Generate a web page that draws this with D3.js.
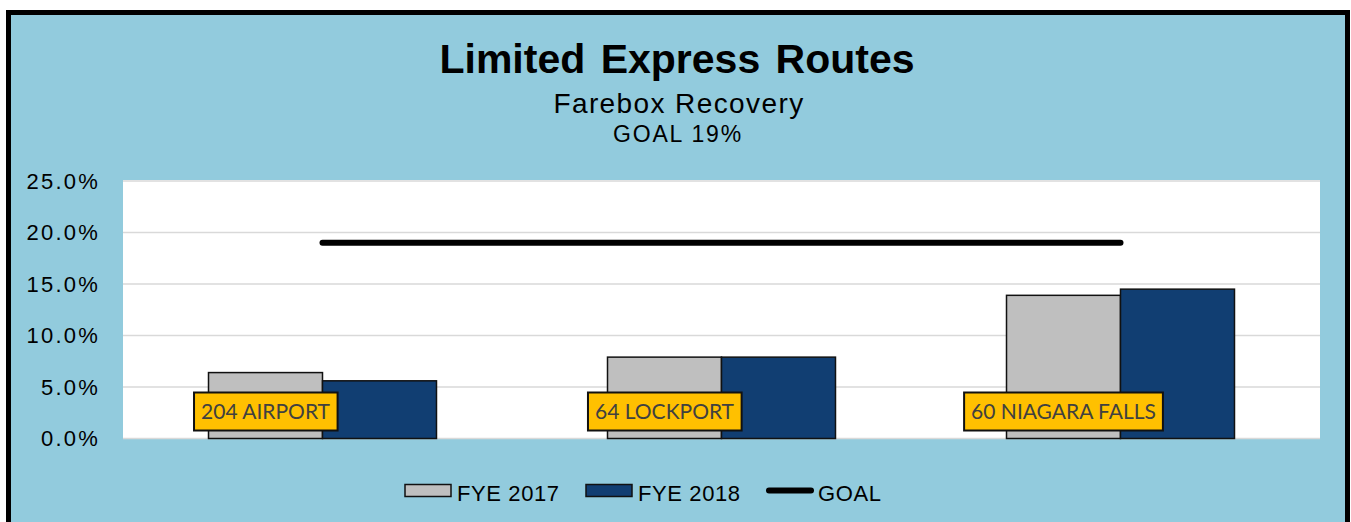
<!DOCTYPE html>
<html>
<head>
<meta charset="utf-8">
<script src="https://cdn.jsdelivr.net/npm/d3@7"></script>
<style>
  body { margin: 0; background: #fff; }
  svg { display: block; }
</style>
</head>
<body>
<svg width="1351" height="522"></svg>
<script>
var routes = ["204 AIRPORT", "64 LOCKPORT", "60 NIAGARA FALLS"];
var series = ["FYE 2017", "FYE 2018"];
var fye2017 = [6.4, 7.9, 13.9];
var fye2018 = [5.6, 7.9, 14.5];
var goal = 19;
var yTicks = [0, 5, 10, 15, 20, 25];

var svg = d3.select("svg"),
    width = +svg.attr("width"),
    height = +svg.attr("height");

var bg = "#92cbdd",
    colors = ["#bfbfbf", "#113e72"];

// outer frame
svg.append("rect")
    .attr("x", 8.5).attr("y", 12.5)
    .attr("width", 1339).attr("height", 540)
    .attr("fill", bg)
    .attr("stroke", "#000")
    .attr("stroke-width", 5);

// titles
svg.append("text")
    .attr("x", 677).attr("y", 73)
    .attr("text-anchor", "middle")
    .style("font", "bold 41px Arial, 'Liberation Sans', sans-serif")
    .style("word-spacing", "4px")
    .text("Limited Express Routes");

svg.append("text")
    .attr("x", 679).attr("y", 113)
    .attr("text-anchor", "middle")
    .style("font", "28px Arial, 'Liberation Sans', sans-serif")
    .style("letter-spacing", "1.4px")
    .text("Farebox Recovery");

svg.append("text")
    .attr("x", 678).attr("y", 142)
    .attr("text-anchor", "middle")
    .style("font", "23px Arial, 'Liberation Sans', sans-serif")
    .style("letter-spacing", "1.8px")
    .text("GOAL " + goal + "%");

var plot = { left: 123, right: 1320, top: 181, bottom: 438.5 };

var x = d3.scaleBand()
    .domain(routes)
    .range([plot.left, plot.right])
    .paddingInner(0.4286)
    .paddingOuter(0.2143);

var xs = d3.scaleBand()
    .domain(series)
    .range([0, x.bandwidth()]);

var y = d3.scaleLinear()
    .domain([0, 25])
    .range([plot.bottom, plot.top]);

svg.append("rect")
    .attr("x", plot.left).attr("y", plot.top - 1)
    .attr("width", plot.right - plot.left)
    .attr("height", plot.bottom - plot.top + 1)
    .attr("fill", "#fff");

// gridlines
svg.append("g")
  .selectAll("line")
  .data(yTicks)
  .enter().append("line")
    .attr("x1", plot.left).attr("x2", plot.right)
    .attr("y1", function(d) { return y(d); })
    .attr("y2", function(d) { return y(d); })
    .attr("stroke", "#d9d9d9")
    .attr("stroke-width", 1.5);

// y axis labels
var yAxis = svg.append("g")
    .attr("transform", "translate(" + plot.left + ",0)")
    .call(d3.axisLeft(y).tickValues(yTicks).tickSize(0).tickPadding(23)
      .tickFormat(function(d) { return d.toFixed(1) + "%"; }));
yAxis.select(".domain").remove();
yAxis.selectAll("text")
    .style("font", "22px Arial, 'Liberation Sans', sans-serif")
    .style("letter-spacing", "2.2px")
    .attr("fill", "#000");

// bars
var rows = routes.map(function(r, i) {
  return { route: r, values: [fye2017[i], fye2018[i]] };
});

var group = svg.append("g")
  .selectAll("g")
  .data(rows)
  .enter().append("g")
    .attr("transform", function(d) { return "translate(" + x(d.route) + ",0)"; });

group.selectAll("rect")
  .data(function(d) { return d.values.map(function(v, j) { return { s: series[j], v: v, j: j }; }); })
  .enter().append("rect")
    .attr("x", function(d) { return xs(d.s); })
    .attr("y", function(d) { return y(d.v); })
    .attr("width", xs.bandwidth())
    .attr("height", function(d) { return plot.bottom - y(d.v); })
    .attr("fill", function(d) { return colors[d.j]; })
    .attr("stroke", "#111")
    .attr("stroke-width", 1.5);

// goal line
var line = d3.line()
    .x(function(d) { return x(d) + x.bandwidth() / 2; })
    .y(function() { return y(goal); });

svg.append("path")
    .datum(routes)
    .attr("d", line)
    .attr("fill", "none")
    .attr("stroke", "#000")
    .attr("stroke-width", 6)
    .attr("stroke-linecap", "round");

// route labels
var labels = group.append("g")
    .attr("transform", function(d) {
      return "translate(" + (xs(series[0]) + xs.bandwidth() / 2) + ",411.5)";
    });

labels.append("text")
    .attr("text-anchor", "middle")
    .attr("dy", "0.36em")
    .style("font", "21px Lato, 'Open Sans', sans-serif")
    .attr("fill", "#404040")
    .text(function(d) { return d.route; });

labels.each(function() {
  var g = d3.select(this),
      bb = g.select("text").node().getBBox();
  g.insert("rect", "text")
      .attr("x", bb.x - 7)
      .attr("y", -19)
      .attr("width", bb.width + 14)
      .attr("height", 38)
      .attr("fill", "#ffc000")
      .attr("stroke", "#111")
      .attr("stroke-width", 2);
});

// legend
var legend = svg.append("g")
    .style("font", "22px Arial, 'Liberation Sans', sans-serif");

var legendX = [405, 586];
series.forEach(function(s, i) {
  legend.append("rect")
      .attr("x", legendX[i]).attr("y", 484.5)
      .attr("width", 46).attr("height", 12)
      .attr("fill", colors[i])
      .attr("stroke", "#111")
      .attr("stroke-width", 1.5);
  legend.append("text")
      .attr("x", legendX[i] + 52).attr("y", 500.5)
      .style("letter-spacing", "0.6px")
      .text(s);
});

legend.append("line")
    .attr("x1", 769).attr("x2", 811)
    .attr("y1", 490.5).attr("y2", 490.5)
    .attr("stroke", "#000")
    .attr("stroke-width", 6)
    .attr("stroke-linecap", "round");
legend.append("text")
    .attr("x", 818).attr("y", 500.5)
    .style("letter-spacing", "0.6px")
    .text("GOAL");
</script>
</body>
</html>
